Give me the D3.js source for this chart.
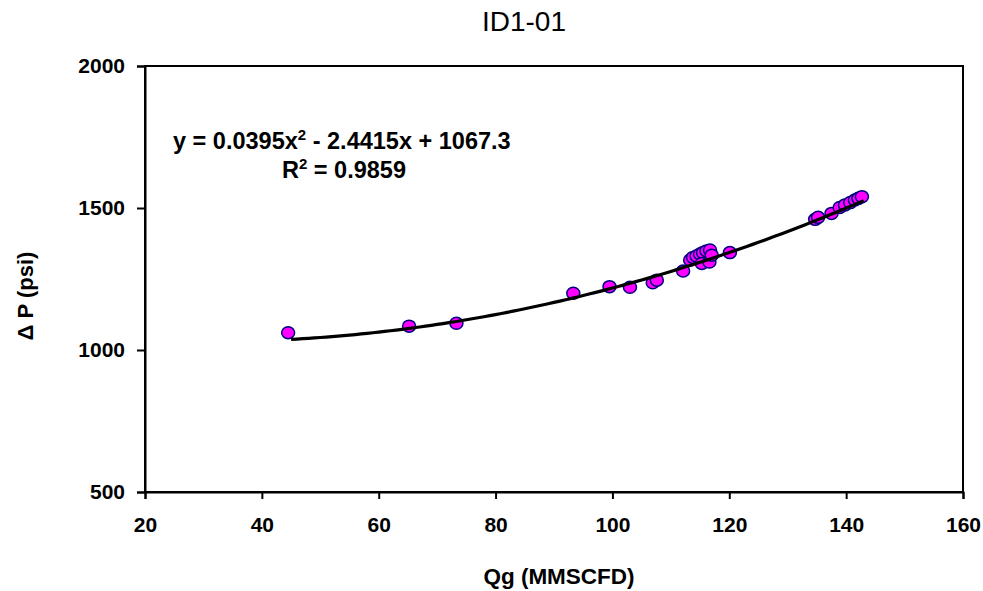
<!DOCTYPE html>
<html>
<head>
<meta charset="utf-8">
<script src="https://cdn.jsdelivr.net/npm/d3@7"></script>
<style>
  body { margin: 0; background: #fff; }
  svg { display: block; font-family: Arial, "Liberation Sans", sans-serif; }
  .tick text { font-weight: bold; font-size: 21px; fill: #000; }
</style>
</head>
<body>
<svg id="chart" width="983" height="591"></svg>
<script>
const qg = [44.5, 65.2, 73.3, 93.3, 99.5, 103.0, 106.9, 107.6, 112.1,
  113.3, 113.8, 114.4, 115.0, 115.5, 116.1, 116.7, 115.3, 116.6, 117.0, 120.1,
  134.7, 135.2, 137.5, 138.9, 139.8, 140.7, 141.5, 142.1, 142.7];
const dp = [1061, 1084, 1094, 1200, 1223, 1221, 1237, 1246, 1278,
  1317, 1326, 1331, 1338, 1343, 1349, 1352, 1305, 1310, 1334, 1343,
  1460, 1467, 1481, 1502, 1511, 1519, 1528, 1534, 1540];

// polynomial trendline y = a x^2 + b x + c (from the label)
const trendCoef = [0.0395, -2.4415, 1067.3];
const trendRange = [45, 143];

const xTicks = [20, 40, 60, 80, 100, 120, 140, 160];
const yTicks = [500, 1000, 1500, 2000];

const margin = { left: 145, top: 66, right: 20, bottom: 99 };
const W = 983, H = 591;
const plotW = W - margin.left - margin.right;
const plotH = H - margin.top - margin.bottom;

const svg = d3.select('#chart');

const x = d3.scaleLinear().domain([20, 160]).range([0, plotW]);
const y = d3.scaleLinear().domain([500, 2000]).range([plotH, 0]);

const g = svg.append('g')
  .attr('transform', `translate(${margin.left},${margin.top})`);

// frame (top + right borders)
g.append('rect')
  .attr('width', plotW).attr('height', plotH)
  .attr('fill', 'none').attr('stroke', '#000').attr('stroke-width', 2);

// axes
const xAxis = g.append('g')
  .attr('transform', `translate(0,${plotH})`)
  .call(d3.axisBottom(x).tickValues(xTicks).tickSize(7).tickPadding(18));
const yAxis = g.append('g')
  .call(d3.axisLeft(y).tickValues(yTicks).tickFormat(d3.format('d'))
    .tickSize(8).tickPadding(12));
[xAxis, yAxis].forEach(a => {
  a.select('.domain').attr('stroke', '#000').attr('stroke-width', 2);
  a.selectAll('.tick line').attr('stroke', '#000').attr('stroke-width', 2);
});

const poly = v => trendCoef[0] * v * v + trendCoef[1] * v + trendCoef[2];
const trendXs = d3.range(trendRange[0], trendRange[1] + 0.5, 1);

// points
g.selectAll('.pt')
  .data(qg.map((q, i) => [q, dp[i]]))
  .join('ellipse')
  .attr('class', 'pt')
  .attr('cx', d => x(d[0]))
  .attr('cy', d => y(d[1]))
  .attr('rx', 6.5).attr('ry', 6)
  .attr('fill', '#ff00ff')
  .attr('stroke', '#000080')
  .attr('stroke-width', 1.5);

// trendline on top of the points, like excel
g.append('path')
  .datum(trendXs)
  .attr('fill', 'none')
  .attr('stroke', '#000')
  .attr('stroke-width', 3.2)
  .attr('d', d3.line().x(d => x(d)).y(d => y(poly(d))));

// equation label
const eq = svg.append('text')
  .attr('x', 173).attr('y', 149)
  .attr('font-size', 23.5).attr('font-weight', 'bold');
eq.append('tspan').text('y = 0.0395x');
eq.append('tspan').attr('font-size', 15).attr('dy', -9).text('2');
eq.append('tspan').attr('dy', 9).text(' - 2.4415x + 1067.3');

const r2 = svg.append('text')
  .attr('x', 282).attr('y', 178)
  .attr('font-size', 23.5).attr('font-weight', 'bold');
r2.append('tspan').text('R');
r2.append('tspan').attr('font-size', 15).attr('dy', -9).text('2');
r2.append('tspan').attr('dy', 9).text(' = 0.9859');

// title
svg.append('text')
  .attr('x', 524).attr('y', 31)
  .attr('text-anchor', 'middle')
  .attr('font-size', 28)
  .text('ID1-01');

// axis titles
svg.append('text')
  .attr('x', 559).attr('y', 584)
  .attr('text-anchor', 'middle')
  .attr('font-size', 22.5).attr('font-weight', 'bold')
  .text('Qg (MMSCFD)');

svg.append('text')
  .attr('transform', 'translate(33,296) rotate(-90)')
  .attr('text-anchor', 'middle')
  .attr('font-size', 22).attr('font-weight', 'bold')
  .text('Δ P (psi)');
</script>
</body>
</html>
